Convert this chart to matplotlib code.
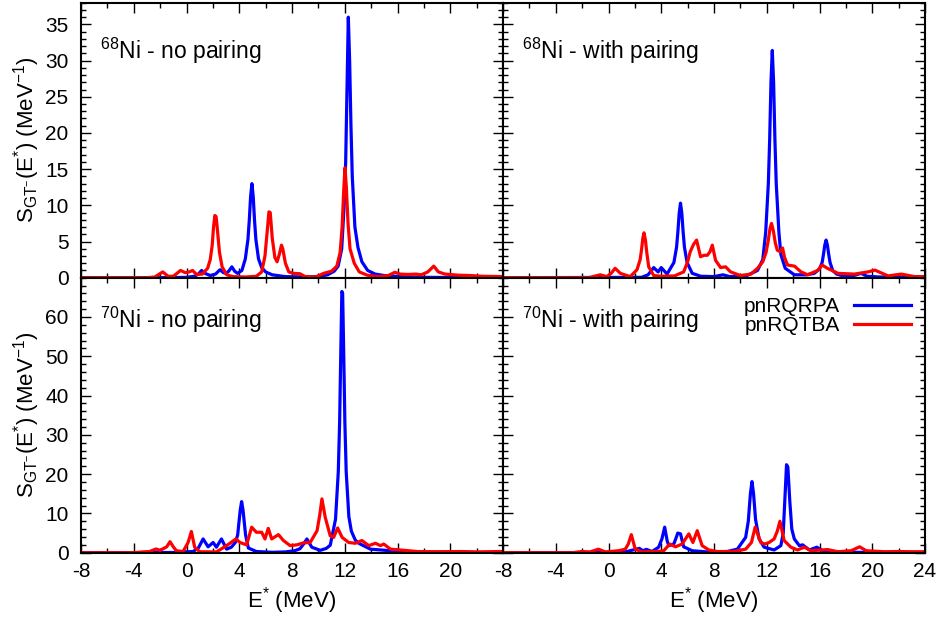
import matplotlib
matplotlib.use('Agg')
import matplotlib.pyplot as plt
from matplotlib.ticker import MultipleLocator

plt.rcParams['font.family'] = ['Liberation Sans', 'DejaVu Sans']
plt.rcParams['mathtext.fontset'] = 'custom'
plt.rcParams['mathtext.rm'] = 'Liberation Sans'
plt.rcParams['mathtext.it'] = 'Liberation Sans:italic'
plt.rcParams['mathtext.bf'] = 'Liberation Sans:bold'
plt.rcParams['axes.unicode_minus'] = False

# ---------------- data (E*, strength) ----------------
ni68_nopair_rpa = [(-8, 0), (-2, 0), (0, 0.05), (0.6, 0.2), (0.9, 0.5), (1.15, 1.0), (1.4, 0.6),
                   (1.8, 0.3), (2.2, 0.5), (2.54, 1.1), (2.8, 0.7), (3.0, 0.6), (3.2, 0.9), (3.44, 1.5),
                   (3.65, 0.9), (3.87, 0.6), (4.2, 1.0), (4.46, 2.6), (4.66, 5.3), (4.76, 7.9), (4.86, 11.2),
                   (4.96, 13.0), (5.06, 11.2), (5.16, 7.9), (5.26, 5.3), (5.46, 2.6), (5.7, 1.4), (6.0, 0.8),
                   (6.5, 0.4), (7.5, 0.15), (9, 0.1), (10, 0.15), (10.7, 0.4), (11.2, 0.9), (11.5, 1.6),
                   (11.77, 4.0), (11.97, 10.5), (12.07, 16), (12.17, 26), (12.27, 36), (12.37, 30),
                   (12.47, 21), (12.57, 14), (12.77, 7), (13.0, 4.2), (13.3, 2.2), (13.74, 1.0), (14.3, 0.5),
                   (15, 0.3), (16.3, 0.14), (18, 0.05), (24, 0)]
ni68_nopair_tba = [(-8, 0), (-3, 0), (-2.4, 0.1), (-1.8, 0.8), (-1.4, 0.2), (-1.0, 0.2), (-0.45, 1.0),
                   (-0.1, 0.7), (0.2, 0.8), (0.46, 1.0), (0.76, 0.45), (1.2, 0.5), (1.6, 1.3), (1.8, 2.5),
                   (1.95, 4.5), (2.05, 7.0), (2.15, 8.6), (2.25, 8.4), (2.35, 6.5), (2.5, 3.5), (2.7, 1.5),
                   (3.05, 0.4), (3.5, 0.15), (4.5, 0.1), (5.3, 0.2), (5.7, 0.8), (5.95, 3.0), (6.1, 6.0),
                   (6.25, 9.1), (6.35, 9.0), (6.5, 5.5), (6.7, 2.8), (6.87, 2.2), (7.05, 3.3), (7.2, 4.5),
                   (7.3, 4.0), (7.5, 2.0), (7.76, 0.8), (8.1, 0.6), (8.6, 0.55), (9.0, 0.15), (9.8, 0.1),
                   (10.4, 0.6), (11.0, 0.9), (11.4, 1.6), (11.65, 3.5), (11.8, 7), (11.92, 12), (12.02, 15.2),
                   (12.12, 12.5), (12.25, 7.5), (12.4, 4.0), (12.72, 2.0), (13.1, 0.8), (13.7, 0.35),
                   (14.5, 0.15), (15.3, 0.3), (15.8, 0.75), (16.2, 0.5), (16.8, 0.45), (17.4, 0.5), (17.8, 0.4),
                   (18.3, 0.8), (18.75, 1.6), (19.1, 0.8), (19.6, 0.5), (20.6, 0.35), (21.5, 0.3), (22.4, 0.2),
                   (24, 0.15)]
ni68_pair_rpa = [(-8, 0), (2.5, 0.05), (3.0, 0.4), (3.43, 1.4), (3.76, 0.8), (4.0, 1.4), (4.44, 0.5),
                 (4.96, 2.1), (5.16, 4.2), (5.26, 6.3), (5.36, 8.9), (5.46, 10.3), (5.56, 8.9), (5.66, 6.3),
                 (5.76, 4.2), (5.96, 2.1), (6.35, 0.6), (7.0, 0.2), (8.0, 0.15), (8.68, 0.4), (9.2, 0.15),
                 (10.5, 0.3), (11.3, 1.0), (11.7, 2.5), (11.92, 6.3), (12.12, 13), (12.22, 19), (12.32, 27),
                 (12.42, 31.4), (12.52, 27), (12.62, 19), (12.72, 13), (12.92, 6.3), (13.07, 3.2), (13.4, 1.3),
                 (14.1, 0.4), (15.0, 0.4), (15.6, 0.6), (16.0, 1.2), (16.2, 2.1), (16.3, 3.2), (16.4, 4.5),
                 (16.5, 5.2), (16.6, 4.5), (16.7, 3.2), (16.8, 2.1), (17.0, 1.0), (17.3, 0.5), (17.9, 0.2),
                 (18.6, 0.3), (19.16, 0.6), (19.6, 0.2), (20.5, 0.1), (24, 0.05)]
ni68_pair_tba = [(-8, 0), (-1.5, 0), (-0.63, 0.4), (-0.13, 0.15), (0.2, 0.6), (0.5, 1.3), (0.9, 0.6),
                 (1.65, 0.15), (2.16, 1.1), (2.4, 2.5), (2.5, 3.8), (2.6, 5.4), (2.69, 6.2), (2.8, 5.2),
                 (2.9, 3.5), (3.05, 1.5), (3.43, 0.3), (4.0, 0.2), (5.0, 0.25), (5.7, 0.8), (6.0, 2.2),
                 (6.2, 3.6), (6.45, 4.6), (6.68, 5.2), (6.98, 2.9), (7.25, 3.1), (7.5, 3.1), (7.7, 3.6),
                 (7.87, 4.5), (8.12, 2.4), (8.5, 1.4), (8.88, 1.5), (9.26, 0.8), (10.0, 0.3), (10.8, 0.5),
                 (11.3, 1.3), (11.7, 2.2), (11.95, 3.5), (12.1, 5.0), (12.25, 6.8), (12.36, 7.5), (12.5, 6.5),
                 (12.65, 4.8), (12.8, 3.8), (13.0, 3.6), (13.2, 4.1), (13.35, 2.8), (13.58, 1.75), (14.1, 1.6),
                 (14.6, 0.8), (15.1, 0.4), (15.86, 1.0), (16.2, 1.75), (16.6, 1.3), (17.4, 0.6), (18.65, 0.5),
                 (19.67, 0.8), (20.2, 1.05), (21.2, 0.25), (22.2, 0.5), (23.2, 0.15), (24, 0.15)]
ni70_nopair_rpa = [(-8, 0), (-1, 0.05), (0.5, 0.3), (0.9, 1.2), (1.26, 3.5), (1.64, 1.5), (2.02, 2.6),
                   (2.27, 1.4), (2.65, 3.5), (3.04, 0.9), (3.4, 1.4), (3.7, 2.6), (3.88, 4.5), (3.98, 7.8),
                   (4.08, 11.0), (4.18, 13.0), (4.28, 11.0), (4.38, 7.8), (4.48, 4.5), (4.69, 1.2), (5.3, 0.3),
                   (6.5, 0.1), (7.5, 0.2), (8.2, 0.5), (8.6, 1.0), (8.9, 2.3), (9.13, 3.5), (9.5, 1.4),
                   (10.14, 0.6), (10.6, 1.1), (10.9, 1.9), (11.3, 8.5), (11.51, 20.6), (11.61, 33),
                   (11.71, 53), (11.78, 66.5), (11.84, 66), (11.91, 53), (12.01, 33), (12.11, 20.6),
                   (12.31, 9.2), (12.5, 5.5), (12.8, 3.2), (13.06, 2.4), (13.95, 0.9), (15.47, 0.5),
                   (16.5, 0.3), (17.75, 0.1), (24, 0.05)]
ni70_nopair_tba = [(-8, 0), (-4, 0), (-3.3, 0.2), (-2.8, 0.3), (-2.31, 0.95), (-2.0, 0.6), (-1.5, 1.5),
                   (-1.25, 2.8), (-1.0, 1.5), (-0.77, 0.5), (-0.26, 0.3), (0.12, 2.6), (0.37, 5.4), (0.62, 1.4),
                   (1.0, 0.25), (2.27, 0.2), (3.04, 1.8), (3.75, 3.5), (4.05, 2.6), (4.56, 2.0), (4.94, 6.5),
                   (5.3, 5.2), (5.7, 5.2), (5.95, 3.5), (6.2, 6.2), (6.46, 3.5), (6.97, 4.6), (7.35, 3.1),
                   (7.86, 1.8), (8.37, 2.0), (8.87, 2.5), (9.38, 2.6), (9.9, 5.6), (10.1, 9.5), (10.27, 13.7),
                   (10.52, 9.0), (10.9, 4.3), (11.16, 3.9), (11.46, 6.3), (11.8, 3.9), (12.3, 2.6), (12.8, 2.4),
                   (13.3, 3.1), (13.82, 1.8), (14.33, 2.4), (14.7, 1.8), (14.96, 2.2), (15.47, 0.9), (16.2, 0.7),
                   (17.5, 0.3), (18.77, 0.25), (20.8, 0.3), (22.07, 0.2), (23.7, 0.3), (24, 0.3)]
ni70_pair_rpa = [(-8, 0), (0.5, 0.05), (1.4, 0.3), (2.34, 1.1), (2.6, 0.5), (2.87, 0.85), (3.3, 0.3),
                 (3.8, 1.4), (4.05, 3.5), (4.26, 6.5), (4.45, 3.0), (4.57, 1.8), (4.95, 2.2), (5.15, 4.0),
                 (5.25, 5.0), (5.46, 4.8), (5.7, 1.5), (6.35, 0.5), (7.5, 0.2), (9.0, 0.3), (9.77, 0.9),
                 (10.4, 3.9), (10.6, 8), (10.76, 15), (10.88, 18.1), (11.0, 15), (11.15, 8.5), (11.42, 3.5),
                 (11.8, 1.4), (12.56, 0.7), (13.07, 1.8), (13.25, 5), (13.38, 14), (13.5, 22.4), (13.6, 21.8),
                 (13.75, 13), (13.9, 6), (14.09, 3.5), (14.47, 1.8), (14.72, 2.0), (15.23, 0.7), (15.8, 1.4),
                 (16.24, 0.5), (17.13, 0.2), (18.5, 0.1), (24, 0.05)]
ni70_pair_tba = [(-8, 0), (-2.7, 0), (-2.03, 0.3), (-1.4, 0.2), (-0.76, 0.9), (-0.25, 0.2), (0.76, 0.5),
                 (1.27, 0.9), (1.5, 2.2), (1.73, 4.6), (2.03, 0.9), (2.54, 0.2), (3.68, 0.3), (4.19, 0.5),
                 (4.64, 2.2), (5.08, 1.5), (5.58, 2.2), (6.09, 4.8), (6.4, 2.6), (6.73, 5.6), (7.1, 1.8),
                 (7.6, 0.7), (8.25, 0.3), (9.5, 0.3), (10.4, 0.9), (10.84, 2.6), (11.12, 6.5), (11.55, 2.6),
                 (11.85, 2.2), (12.18, 2.6), (12.56, 3.5), (12.8, 5.5), (13.0, 8.0), (13.32, 3.1), (13.83, 1.4),
                 (14.34, 0.7), (14.85, 1.4), (15.36, 0.5), (16.6, 0.8), (17.4, 0.25), (18.4, 0.5), (19.04, 1.5),
                 (19.54, 0.5), (20.94, 0.25), (21.95, 0.3), (22.97, 0.25), (24, 0.25)]

panel_titles = [r'$^{68}$Ni - no pairing', r'$^{68}$Ni - with pairing',
                r'$^{70}$Ni - no pairing', r'$^{70}$Ni - with pairing']
series_labels = ['pnRQRPA', 'pnRQTBA']
xticks_left = [-8, -4, 0, 4, 8, 12, 16, 20]
xticks_right = [-8, -4, 0, 4, 8, 12, 16, 20, 24]
yticks_top = [0, 5, 10, 15, 20, 25, 30, 35]
yticks_bottom = [0, 10, 20, 30, 40, 50, 60]

# ---------------- figure ----------------
W, H = 938, 623
fig = plt.figure(figsize=(W / 100, H / 100), dpi=100)

x_left, x_mid, x_right = 81, 503, 925
y_top, y_mid, y_bot = 2.7, 277.7, 552.7

def make_ax(px0, px1, py0, py1):
    return fig.add_axes([px0 / W, 1 - py1 / H, (px1 - px0) / W, (py1 - py0) / H])

axes = [make_ax(x_left, x_mid, y_top, y_mid), make_ax(x_mid, x_right, y_top, y_mid),
        make_ax(x_left, x_mid, y_mid, y_bot), make_ax(x_mid, x_right, y_mid, y_bot)]
data = [(ni68_nopair_rpa, ni68_nopair_tba), (ni68_pair_rpa, ni68_pair_tba),
        (ni70_nopair_rpa, ni70_nopair_tba), (ni70_pair_rpa, ni70_pair_tba)]

for i, ax in enumerate(axes):
    rpa, tba = data[i]
    l1, = ax.plot([p[0] for p in rpa], [p[1] for p in rpa], color='#0000ff', lw=2.3,
                  label=series_labels[0], solid_joinstyle='round')
    l2, = ax.plot([p[0] for p in tba], [p[1] for p in tba], color='#ff0000', lw=2.3,
                  label=series_labels[1], solid_joinstyle='round')
    top = i < 2
    left = i % 2 == 0
    ax.set_xlim(-8, 24)
    ax.set_ylim(0, 38 if top else 70)
    ax.set_xticks(xticks_left if left else xticks_right)
    ax.xaxis.set_minor_locator(MultipleLocator(2))
    ax.set_yticks(yticks_top if top else yticks_bottom)
    ax.yaxis.set_minor_locator(MultipleLocator(1 if top else 2))
    ax.tick_params(which='both', direction='in', top=True, right=True, width=1.0,
                   labelsize=15, labelbottom=not top, labelleft=left)
    ax.tick_params(which='major', length=7)
    ax.tick_params(which='minor', length=3.5)
    ax.tick_params(axis='y', pad=9)
    ax.tick_params(axis='x', pad=7)
    for s in ax.spines.values():
        s.set_linewidth(1.5)
    ax.text(0.045, 0.794 if top else 0.817, panel_titles[i], transform=ax.transAxes,
            fontsize=16.5, ha='left', va='baseline')
    if i == 3:
        ax.legend(handles=[l1, l2], loc='upper right', bbox_to_anchor=(0.967, 0.93),
                  frameon=False, markerfirst=False, fontsize=15, handlelength=2.75,
                  handletextpad=0.65, labelspacing=0.0, borderaxespad=0, borderpad=0)

ylabel = r'S$_{\mathrm{GT}^{-}}$(E$^{*}$) (MeV$^{-1}$)'
fig.text(27 / W, 1 - 140 / H, ylabel, rotation=90, fontsize=16, ha='center', va='center')
fig.text(27 / W, 1 - 415 / H, ylabel, rotation=90, fontsize=16, ha='center', va='center')
xlabel = r'E$^{*}$ (MeV)'
fig.text((x_left + x_mid) / 2 / W, 1 - 601 / H, xlabel, fontsize=16, ha='center', va='center')
fig.text((x_mid + x_right) / 2 / W, 1 - 601 / H, xlabel, fontsize=16, ha='center', va='center')

fig.savefig('out.png', dpi=100)
